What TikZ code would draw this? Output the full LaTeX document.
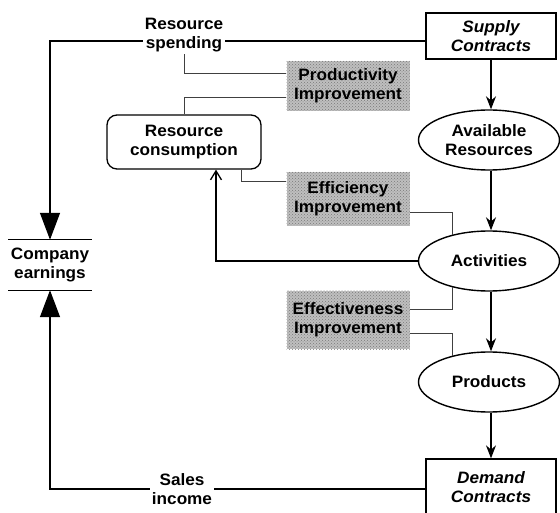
\documentclass[tikz,border=0pt]{standalone}
\usepackage{fontspec}
\setmainfont{Liberation Sans}[FakeStretch=1.04]
\usepackage{tikz}
\usetikzlibrary{arrows.meta,positioning,shapes,patterns}
\tikzset{
  lbl/.style={align=center,inner sep=2pt,
              font=\bfseries\fontsize{16.5}{19}\selectfont},
  cbox/.style={lbl,draw,line width=1.3pt,minimum width=130pt,minimum height=46pt,
               font=\bfseries\itshape\fontsize{16.5}{19}\selectfont},
  ell/.style={lbl,draw,ellipse,line width=1.4pt,
              minimum width=141pt,minimum height=60pt},
  rbox/.style={lbl,draw,rounded corners=10pt,line width=1.3pt,
               minimum width=154pt,minimum height=54pt},
  ibox/.style={lbl,preaction={fill=gray!50},pattern=crosshatch dots,
               pattern color=gray!95!black,minimum width=123pt,minimum height=50pt},
  flow/.style={line width=1.3pt},
  arr/.style={flow,-{Stealth[length=13pt,width=10pt]}},
  bigarr/.style={flow,-{Triangle[length=27pt,width=20pt]}},
  backarr/.style={flow,-{Straight Barb[length=9pt,width=11pt]}},
  lnk/.style={draw=black!75,line width=0.6pt},
}

\begin{document}
\begin{tikzpicture}[x=1pt,y=-1pt]
\useasboundingbox (0,0) rectangle (560,513);
% chain on the right
\node[cbox] (supply) at (491,36) {Supply\\Contracts};
\node[ell] (avail) at (489,140) {Available\\Resources};
\node[ell] (activ) at (489,261) {Activities};
\node[ell] (prod) at (489,382) {Products};
\node[cbox,minimum height=56pt] (demand) at (491,487) {Demand\\Contracts};
\draw[arr] (supply) -- (supply |- avail.north);
\draw[arr] (supply |- avail.south) -- (supply |- activ.north);
\draw[arr] (supply |- activ.south) -- (supply |- prod.north);
\draw[arr] (supply |- prod.south) -- (demand);

% money side
\node[lbl] (spend) at (184,35) {Resource\\spending};
\node[lbl] (income) at (182,489) {Sales\\income};
\node[lbl,minimum width=83pt,minimum height=50pt] (earn) at (50,265)
  {Company\\earnings};
\draw[flow] (earn.north west) -- (earn.north east);
\draw[flow] (earn.south west) -- (earn.south east);
\coordinate (spendline) at ([yshift=-6pt]spend.east);
\draw[flow] (supply.west |- spendline) -- (spendline);
\draw[bigarr] (spendline -| spend.west) -| (earn.north);
\draw[flow] (demand.west |- income.east) -- (income.east);
\draw[bigarr] (income.west) -| (earn.south);

% consumption and feedback
\node[rbox] (cons) at (184,142) {Resource\\consumption};
\draw[backarr] (activ.west) -| ([xshift=32pt]cons.south);

% improvement tags
\node[ibox] (prodimp) at (348,86) {Productivity\\Improvement};
\node[ibox,minimum height=54pt] (effimp) at (348,199) {Efficiency\\Improvement};
\node[ibox,minimum height=58pt] (effectimp) at (348,320)
  {Effectiveness\\Improvement};
\draw[lnk] (spend.south) |- ([yshift=13pt]prodimp.west);
\draw[lnk] (cons.north) |- ([yshift=-11pt]prodimp.west);
\draw[lnk] ([xshift=57pt]cons.south) |- ([yshift=18pt]effimp.west);
\draw[lnk] ([yshift=-13pt]effimp.east) -| (activ.144);
\draw[lnk] ([yshift=11pt]effectimp.east) -| (activ.216);
\draw[lnk] ([yshift=-13pt]effectimp.east) -| (prod.144);
\end{tikzpicture}
\end{document}
